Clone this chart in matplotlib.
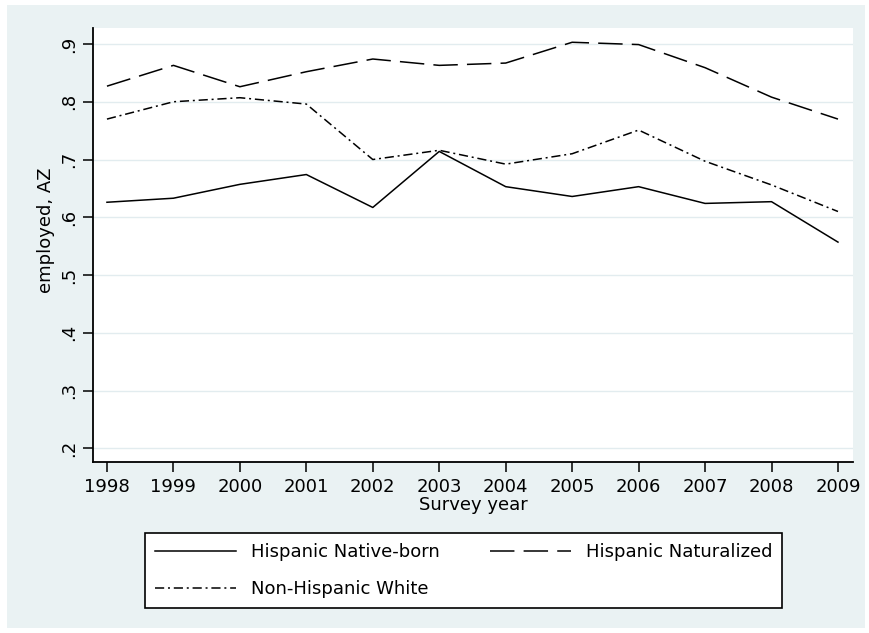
import matplotlib.pyplot as plt
from matplotlib.patches import Rectangle

# data
years = [1998, 1999, 2000, 2001, 2002, 2003, 2004, 2005, 2006, 2007, 2008, 2009]
native_born = [0.626, 0.633, 0.657, 0.674, 0.617, 0.714, 0.653, 0.636, 0.653, 0.624, 0.627, 0.557]
naturalized = [0.827, 0.863, 0.826, 0.852, 0.874, 0.863, 0.867, 0.903, 0.899, 0.859, 0.808, 0.770]
nh_white = [0.770, 0.800, 0.807, 0.796, 0.700, 0.716, 0.692, 0.710, 0.751, 0.697, 0.656, 0.610]
yticks = [0.2, 0.3, 0.4, 0.5, 0.6, 0.7, 0.8, 0.9]
ytick_labels = ['.2', '.3', '.4', '.5', '.6', '.7', '.8', '.9']

W, H = 870, 633
bg = '#EAF2F3'
grid_col = '#E2ECEF'

fig = plt.figure(figsize=(W / 100, H / 100), dpi=100, facecolor='white')
# graph region (light bluish gray with a thin white border)
fig.patches.append(Rectangle((7 / W, 5 / H), (865 - 7) / W, (628 - 5) / H,
                             transform=fig.transFigure, facecolor=bg,
                             edgecolor='none', zorder=-5))

ax = fig.add_axes([93 / W, 1 - 462 / H, (853 - 93) / W, (462 - 28) / H])
ax.set_facecolor('white')

l1, = ax.plot(years, native_born, color='black', lw=1.1, ls='-',
              label='Hispanic Native-born')
l2, = ax.plot(years, naturalized, color='black', lw=1.1, ls=(0, (16, 6)),
              label='Hispanic Naturalized')
l3, = ax.plot(years, nh_white, color='black', lw=1.1, ls=(0, (6, 2.5, 1.3, 2.5)),
              label='Non-Hispanic White')

ax.set_xlim(1997.79, 2009.226)
ax.set_ylim(0.1763, 0.9277)
ax.set_xticks(years)
ax.set_xticklabels([str(y) for y in years])
ax.set_yticks(yticks)
ax.set_yticklabels(ytick_labels, rotation=90, va='center')

for y in yticks:
    ax.axhline(y, color=grid_col, lw=1.0, zorder=0)

for s in ['top', 'right']:
    ax.spines[s].set_visible(False)
for s in ['left', 'bottom']:
    ax.spines[s].set_linewidth(1.3)

ax.tick_params(axis='both', length=7.5, width=1.1, color='black', labelsize=13)
ax.tick_params(axis='x', pad=4)
ax.tick_params(axis='y', pad=3)

ax.set_xlabel('Survey year', fontsize=13, labelpad=0)
ax.set_ylabel('employed, AZ', fontsize=13)
ax.yaxis.set_label_coords(-0.05, 0.535)

# row-wise order like the original legend
handles = [l1, l3, l2]
labels = [h.get_label() for h in handles]
leg = fig.legend(handles, labels, ncol=2, loc='upper left',
                 bbox_to_anchor=(145 / W, 1 - 533 / H),
                 fontsize=13, frameon=True, fancybox=False,
                 edgecolor='black', facecolor='white', framealpha=1,
                 handlelength=4.5, handletextpad=0.8, labelspacing=1.05,
                 borderpad=0.55, borderaxespad=0, columnspacing=2.8)
leg.get_frame().set_linewidth(1.2)

fig.savefig('out.png', dpi=100, facecolor=fig.get_facecolor())
